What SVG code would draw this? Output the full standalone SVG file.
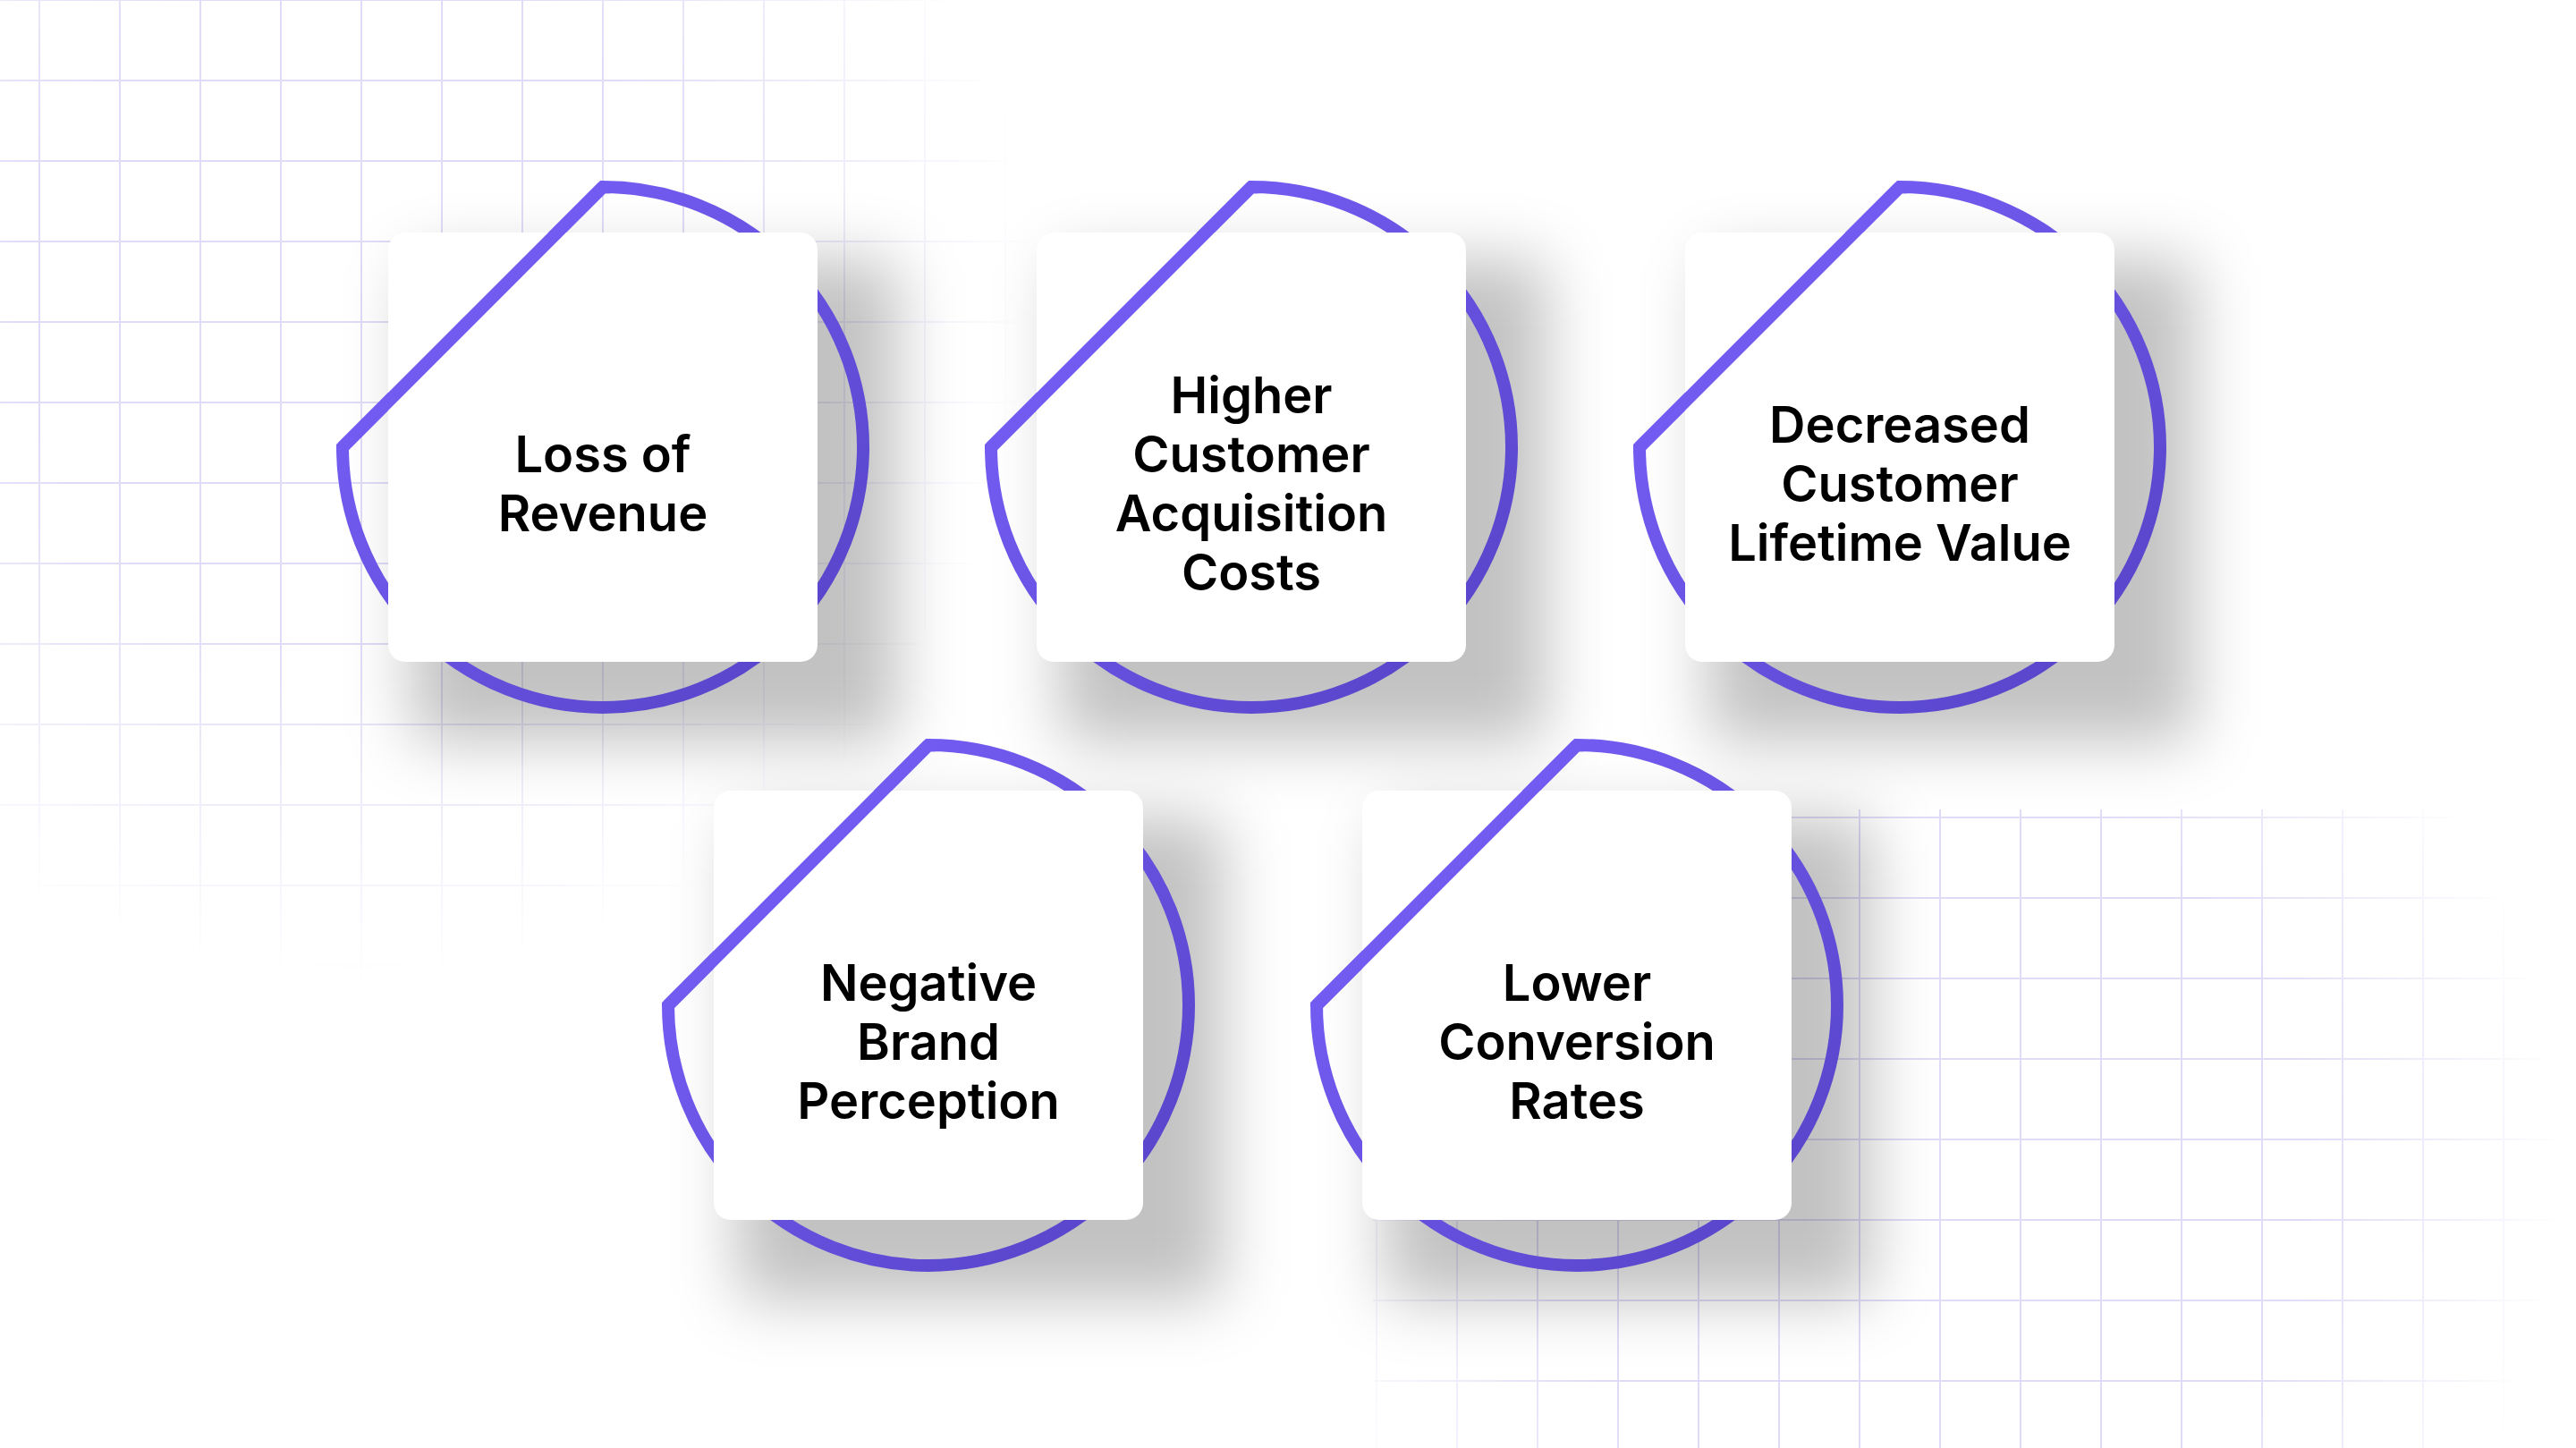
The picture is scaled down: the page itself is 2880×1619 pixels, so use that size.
<svg xmlns="http://www.w3.org/2000/svg" width="2880" height="1619" viewBox="0 0 2880 1619">
  <defs>
    <style>
      .ring { fill: none; stroke: url(#ringGrad); stroke-width: 14; stroke-linejoin: miter; }
      .card { fill: #FFFFFF; }
      .shadow { fill: #000000; fill-opacity: 0.24; filter: url(#blur); }
      .label { font-family: Inter, "Liberation Sans", sans-serif; font-weight: 600; font-size: 56px; fill: #000000; text-anchor: middle; }
      .gridline { fill: #E0DBF7; }
    </style>
    <linearGradient id="ringGrad" x1="0" y1="0" x2="1" y2="1">
      <stop offset="0" stop-color="#7C63FF"/>
      <stop offset="1" stop-color="#5442C4"/>
    </linearGradient>
    <filter id="blur" x="-40%" y="-40%" width="180%" height="180%">
      <feGaussianBlur stdDeviation="35"/>
    </filter>
    <path id="ringShape" class="ring" d="M-291 0 L0 -291 A291 291 0 1 1 -291 0 Z"/>
    <clipPath id="chordClip" clipPathUnits="userSpaceOnUse">
      <polygon points="-299.5,-8.5 -8.5,-299.5 8.5,-282.5 -282.5,8.5"/>
    </clipPath>
    <pattern id="gridTL" patternUnits="userSpaceOnUse" x="43" y="-1" width="90" height="90">
      <rect class="gridline" x="0" y="0" width="2" height="90"/>
      <rect class="gridline" x="0" y="0" width="90" height="2"/>
    </pattern>
    <pattern id="gridBR" patternUnits="userSpaceOnUse" x="1628" y="913" width="90" height="90">
      <rect class="gridline" x="0" y="0" width="2" height="90"/>
      <rect class="gridline" x="0" y="0" width="90" height="2"/>
    </pattern>
    <radialGradient id="fadeTL" gradientUnits="userSpaceOnUse" cx="400" cy="340" r="760">
      <stop offset="0" stop-color="#FFFFFF"/>
      <stop offset="0.5" stop-color="#FFFFFF"/>
      <stop offset="1" stop-color="#000000"/>
    </radialGradient>
    <radialGradient id="fadeBR" gradientUnits="userSpaceOnUse" cx="2150" cy="1300" r="720">
      <stop offset="0" stop-color="#FFFFFF"/>
      <stop offset="0.6" stop-color="#FFFFFF"/>
      <stop offset="1" stop-color="#000000"/>
    </radialGradient>
    <mask id="maskTL" maskUnits="userSpaceOnUse" x="0" y="0" width="2880" height="1619">
      <rect x="0" y="0" width="2880" height="1619" fill="url(#fadeTL)"/>
    </mask>
    <mask id="maskBR" maskUnits="userSpaceOnUse" x="0" y="0" width="2880" height="1619">
      <rect x="0" y="0" width="2880" height="1619" fill="url(#fadeBR)"/>
    </mask>
  </defs>

  <rect x="0" y="0" width="2880" height="1619" fill="#FFFFFF"/>

  <g id="background-grid">
    <rect x="0" y="0" width="1300" height="1200" fill="url(#gridTL)" mask="url(#maskTL)"/>
    <rect x="1535" y="905" width="1345" height="714" fill="url(#gridBR)" mask="url(#maskBR)"/>
  </g>

  <g id="connectors"></g>

  <g id="node-loss-of-revenue" transform="translate(674 500)">
    <rect class="shadow" x="-215" y="-210" width="545" height="540" rx="20"/>
    <use href="#ringShape"/>
    <rect class="card" x="-240" y="-240" width="480" height="480" rx="19"/>
    <use href="#ringShape" clip-path="url(#chordClip)"/>
    <text class="label" x="0" y="28">Loss of</text>
    <text class="label" x="0" y="94">Revenue</text>
  </g>

  <g id="node-higher-cac" transform="translate(1399 500)">
    <rect class="shadow" x="-215" y="-210" width="545" height="540" rx="20"/>
    <use href="#ringShape"/>
    <rect class="card" x="-240" y="-240" width="480" height="480" rx="19"/>
    <use href="#ringShape" clip-path="url(#chordClip)"/>
    <text class="label" x="0" y="-38">Higher</text>
    <text class="label" x="0" y="28">Customer</text>
    <text class="label" x="0" y="94">Acquisition</text>
    <text class="label" x="0" y="160">Costs</text>
  </g>

  <g id="node-decreased-clv" transform="translate(2124 500)">
    <rect class="shadow" x="-215" y="-210" width="545" height="540" rx="20"/>
    <use href="#ringShape"/>
    <rect class="card" x="-240" y="-240" width="480" height="480" rx="19"/>
    <use href="#ringShape" clip-path="url(#chordClip)"/>
    <text class="label" x="0" y="-5">Decreased</text>
    <text class="label" x="0" y="61">Customer</text>
    <text class="label" x="0" y="127">Lifetime Value</text>
  </g>

  <g id="node-negative-brand" transform="translate(1038 1124)">
    <rect class="shadow" x="-215" y="-210" width="545" height="540" rx="20"/>
    <use href="#ringShape"/>
    <rect class="card" x="-240" y="-240" width="480" height="480" rx="19"/>
    <use href="#ringShape" clip-path="url(#chordClip)"/>
    <text class="label" x="0" y="-5">Negative</text>
    <text class="label" x="0" y="61">Brand</text>
    <text class="label" x="0" y="127">Perception</text>
  </g>

  <g id="node-lower-conversion" transform="translate(1763 1124)">
    <rect class="shadow" x="-215" y="-210" width="545" height="540" rx="20"/>
    <use href="#ringShape"/>
    <rect class="card" x="-240" y="-240" width="480" height="480" rx="19"/>
    <use href="#ringShape" clip-path="url(#chordClip)"/>
    <text class="label" x="0" y="-5">Lower</text>
    <text class="label" x="0" y="61">Conversion</text>
    <text class="label" x="0" y="127">Rates</text>
  </g>
</svg>
